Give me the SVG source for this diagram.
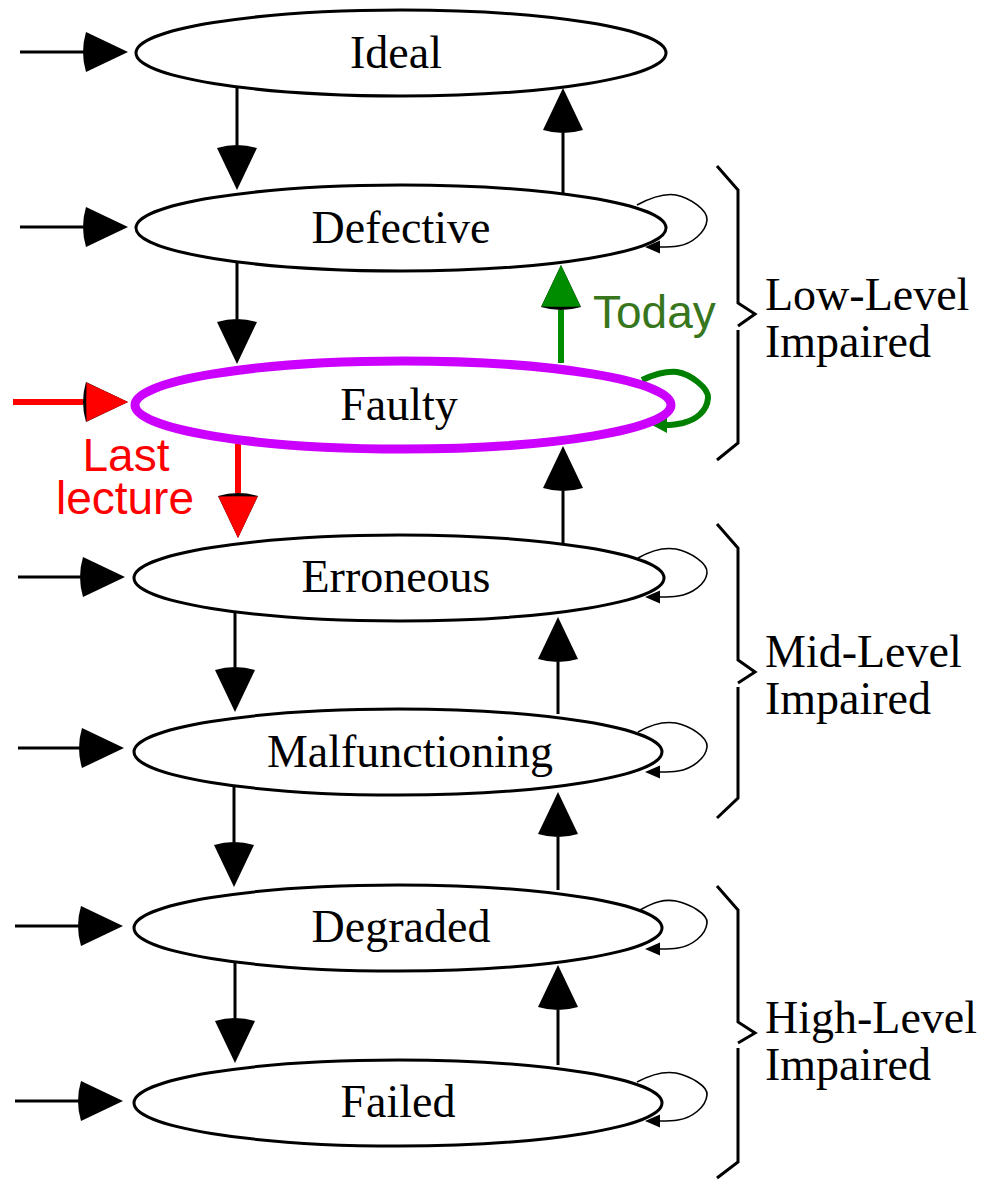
<svg xmlns="http://www.w3.org/2000/svg" width="995" height="1180" viewBox="0 0 995 1180">
<defs>
<style>
.node{fill:#fff;stroke:#000;stroke-width:3}
.lbl{font-family:"Liberation Serif","Times New Roman",serif;font-size:46px;fill:#000;text-anchor:middle}
.side{font-family:"Liberation Serif","Times New Roman",serif;font-size:46px;fill:#000}
.edge{stroke:#000;stroke-width:3;fill:none;marker-end:url(#ah)}
.loop{stroke:#000;stroke-width:1.6;fill:none;marker-end:url(#sh)}
.brace{stroke:#000;stroke-width:3;fill:none;stroke-linejoin:miter}
.ann{font-family:"Liberation Sans",Arial,sans-serif;font-size:46px}
</style>
<marker id="ah" markerUnits="userSpaceOnUse" orient="auto" refX="0" refY="0" markerWidth="60" markerHeight="50" style="overflow:visible">
<path d="M45,0 L3,-20 Q-3,0 3,20 Z" fill="#000"/>
</marker>
<marker id="ahr" markerUnits="userSpaceOnUse" orient="auto" refX="0" refY="0" markerWidth="60" markerHeight="50" style="overflow:visible">
<path d="M45,0 L3,-20 Q-3,0 3,20 Z" fill="#000"/>
<path d="M45,0 L3.5,-19.6 Q3,0 3.5,19.6 Z" fill="#ff0000"/>
</marker>
<marker id="ahg" markerUnits="userSpaceOnUse" orient="auto" refX="0" refY="0" markerWidth="60" markerHeight="50" style="overflow:visible">
<path d="M45,0 L3,-20 Q-3,0 3,20 Z" fill="#000"/>
<path d="M45,0 L3.5,-19.6 Q3,0 3.5,19.6 Z" fill="#008c00"/>
</marker>
<marker id="sh" markerUnits="userSpaceOnUse" orient="auto" refX="0" refY="0" markerWidth="20" markerHeight="20" style="overflow:visible">
<path d="M15,0 L0,-6.5 L0,6.5 Z" fill="#000"/>
</marker>
<marker id="shg" markerUnits="userSpaceOnUse" orient="auto" refX="0" refY="0" markerWidth="20" markerHeight="20" style="overflow:visible">
<path d="M15,0 L0,-8 L0,8 Z" fill="#008000"/>
</marker>
</defs>
<rect width="995" height="1180" fill="#fff"/>

<g id="connectors">
<!-- entry arrows -->
<line class="edge" x1="20" y1="52" x2="83" y2="52"/>
<line class="edge" x1="20" y1="227" x2="83" y2="227"/>
<line x1="13" y1="402" x2="83" y2="402" stroke="#ff0000" stroke-width="6" marker-end="url(#ahr)"/>
<line class="edge" x1="18" y1="577" x2="80" y2="577"/>
<line class="edge" x1="18" y1="748" x2="79" y2="748"/>
<line class="edge" x1="15" y1="926" x2="78" y2="926"/>
<line class="edge" x1="15" y1="1101" x2="78" y2="1101"/>
<!-- down arrows -->
<line class="edge" x1="237" y1="87" x2="237" y2="145"/>
<line class="edge" x1="237" y1="262" x2="237" y2="319"/>
<line x1="238" y1="440" x2="238" y2="493" stroke="#ff0000" stroke-width="6" marker-end="url(#ahr)"/>
<line class="edge" x1="235" y1="612" x2="235" y2="667"/>
<line class="edge" x1="234" y1="787" x2="234" y2="842"/>
<line class="edge" x1="235" y1="960" x2="235" y2="1018"/>
<!-- up arrows -->
<line class="edge" x1="563" y1="193" x2="563" y2="133"/>
<line x1="561" y1="363" x2="561" y2="310" stroke="#008c00" stroke-width="6" marker-end="url(#ahg)"/>
<line class="edge" x1="563" y1="544" x2="563" y2="491"/>
<line class="edge" x1="558" y1="714" x2="558" y2="662"/>
<line class="edge" x1="558" y1="890" x2="558" y2="837"/>
<line class="edge" x1="558" y1="1065" x2="558" y2="1010"/>
<!-- self loops -->
<path class="loop" d="M637,205 C652,197 664,193 676,195 C690,198 708,210 707,220 C706,232 692,244 678,246 C672,247 667,247 660,247"/>
<path d="M642,380 C655,374 666,371 677,372 C690,374 709,388 708,398 C707,412 695,420 683,423 C677,424 672,425 667,425" fill="none" stroke="#008000" stroke-width="6" marker-end="url(#shg)"/>
<path class="loop" d="M638,558 C652,550 664,547 676,549 C690,552 708,563 707,573 C706,584 692,594 678,596 C672,597 667,597 660,597"/>
<path class="loop" d="M638,732 C652,724 664,721 676,723 C690,726 708,737 707,747 C706,758 692,769 678,771 C672,772 667,772 660,772"/>
<path class="loop" d="M640,910 C654,902 664,899 676,901 C690,904 708,914 707,923 C706,935 692,946 678,948 C672,949 667,949 660,949"/>
<path class="loop" d="M637,1082 C652,1074 664,1071 676,1073 C690,1076 708,1086 707,1095 C706,1107 692,1118 678,1120 C672,1121 667,1121 660,1121"/>
</g>

<g id="node-ideal">
<ellipse class="node" cx="401" cy="53" rx="265" ry="43"/>
<text class="lbl" x="396" y="68">Ideal</text>
</g>
<g id="node-defective">
<ellipse class="node" cx="401" cy="228" rx="265" ry="43"/>
<text class="lbl" x="401" y="243">Defective</text>
</g>
<g id="node-faulty">
<ellipse cx="403" cy="405" rx="268" ry="44" fill="#fff" stroke="#cc00ff" stroke-width="9"/>
<text class="lbl" x="399" y="420">Faulty</text>
</g>
<g id="node-erroneous">
<ellipse class="node" cx="399" cy="578" rx="265" ry="43"/>
<text class="lbl" x="396" y="592">Erroneous</text>
</g>
<g id="node-malfunctioning">
<ellipse class="node" cx="398" cy="752" rx="264" ry="43"/>
<text class="lbl" x="410" y="767">Malfunctioning</text>
</g>
<g id="node-degraded">
<ellipse class="node" cx="398" cy="928" rx="264" ry="43"/>
<text class="lbl" x="401" y="942">Degraded</text>
</g>
<g id="node-failed">
<ellipse class="node" cx="398" cy="1103" rx="264" ry="43"/>
<text class="lbl" x="398" y="1117">Failed</text>
</g>

<g id="annotations">
<text class="ann" x="593" y="328" fill="#38761d">Today</text>
<text class="ann" x="126" y="471" fill="#ff0000" text-anchor="middle">Last</text>
<text class="ann" x="125" y="514" fill="#ff0000" text-anchor="middle">lecture</text>
</g>

<g id="group-low">
<path class="brace" d="M717,166 L738,190 L738,303 L755,314 L738,326 M738,330 L738,443 L717,460"/>
<text class="side" x="765" y="310">Low-Level</text>
<text class="side" x="765" y="357">Impaired</text>
</g>
<g id="group-mid">
<path class="brace" d="M717,524 L738,548 L738,660 L755,672 L738,683 M738,687 L738,798 L717,818"/>
<text class="side" x="765" y="667">Mid-Level</text>
<text class="side" x="765" y="714">Impaired</text>
</g>
<g id="group-high">
<path class="brace" d="M717,886 L738,910 L738,1022 L755,1033 L738,1043 M738,1048 L738,1162 L717,1178"/>
<text class="side" x="765" y="1033">High-Level</text>
<text class="side" x="765" y="1080">Impaired</text>
</g>
</svg>
